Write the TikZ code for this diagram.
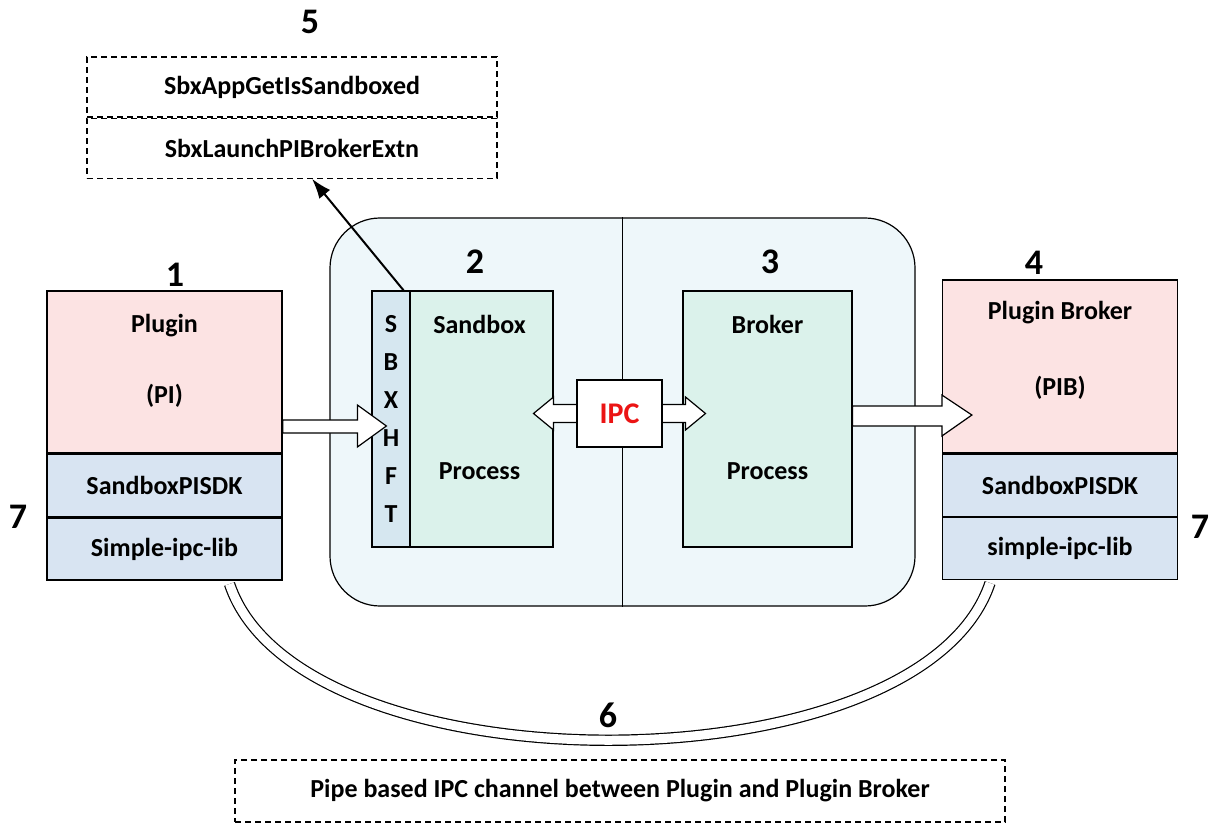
\documentclass[tikz,border=0pt]{standalone}
\usepackage{fontspec}
\setmainfont{Carlito}
\usepackage{xcolor}
\usepackage{tikz}
\usetikzlibrary{arrows.meta,positioning,calc}
\definecolor{rosefill}{RGB}{252,227,227}
\definecolor{sdkfill}{RGB}{216,228,242}
\definecolor{mintfill}{RGB}{219,242,235}
\definecolor{stripfill}{RGB}{214,231,240}
\definecolor{panelfill}{RGB}{238,247,250}
\definecolor{ipcred}{RGB}{235,20,20}
\tikzset{
  num/.style={font=\fontsize{18}{20}\selectfont\bfseries},
  txt/.style={font=\fontsize{13}{15}\selectfont\bfseries},
  api/.style={rectangle,draw,dash pattern=on 3pt off 2pt,semithick,fill=white,minimum width=205pt,
              minimum height=30pt,inner sep=0pt,font=\fontsize{13}{15}\selectfont\bfseries},
  host/.style={rectangle,draw,semithick,fill=rosefill,minimum width=117.5pt,inner sep=0pt},
  lib/.style={rectangle,draw,semithick,fill=sdkfill,minimum width=117.5pt,minimum height=31pt,
              inner sep=0pt,font=\fontsize{13}{15}\selectfont\bfseries},
  proc/.style={rectangle,draw,semithick,fill=mintfill,minimum height=128pt,inner sep=0pt},
  block/.style={draw,semithick,fill=white,line join=miter},
  pipe/.style={draw,semithick,double=white,double distance=4.5pt},
}
\begin{document}
\begin{tikzpicture}[x=0.5pt,y=-0.5pt]
  \useasboundingbox (0,0) rectangle (1218,823);

  % container for sandbox and broker processes
  \node[draw,semithick,fill=panelfill,rounded corners=25pt,minimum width=292.5pt,
        minimum height=194pt,inner sep=0pt] (panel) at (622.5,412) {};
  \draw[semithick] (panel.north) -- (panel.south);
  \node[num] (l2) at (475,262) {2};
  \node[num] (l3) at (770,262) {3};

  \node[proc,minimum width=71.5pt] (sbox) at (481.5,419) {};
  \node[rectangle,draw,semithick,fill=stripfill,minimum width=19pt,minimum height=128pt,inner sep=0pt,
        align=center,font=\fontsize{13}{19}\selectfont\bfseries] (sbx) at (391,419) {S\\B\\X\\H\\F\\T};
  \node[txt] (sbtop) at ($(sbox.north)+(-2,34)$) {Sandbox};
  \node[txt] (sbbot) at ($(sbox.north)+(-2,181)$) {Process};

  \node[proc,minimum width=84.5pt] (broker) at (767.5,419) {};
  \node[txt] (brtop) at ($(broker.north)+(0,34)$) {Broker};
  \node[txt] (brbot) at ($(broker.north)+(0,181)$) {Process};

  % IPC between the two processes
  \coordinate (ipcmid) at (619.5,413.5);
  \draw[block] ($(ipcmid)+(-86,0)$) -- ($(ipcmid)+(-66,-16.5)$) -- ($(ipcmid)+(-66,-9)$)
    -- ($(ipcmid)+(66,-9)$) -- ($(ipcmid)+(66,-16.5)$) -- ($(ipcmid)+(86,0)$)
    -- ($(ipcmid)+(66,16.5)$) -- ($(ipcmid)+(66,9)$) -- ($(ipcmid)+(-66,9)$)
    -- ($(ipcmid)+(-66,16.5)$) -- cycle;
  \node[draw,semithick,fill=white,minimum width=42.5pt,minimum height=33.5pt,
        font=\fontsize{15}{17}\selectfont\bfseries,text=ipcred] (ipc) at (ipcmid) {IPC};

  % plugin side
  \node[num] (l1) at (175,275) {1};
  \node[host,thick,minimum height=81pt] (plugin) at (164.5,372) {};
  \node[txt] (pitop) at ($(plugin.north)+(0,35)$) {Plugin};
  \node[txt] (pibot) at ($(plugin.north)+(0,106)$) {(PI)};
  \node[lib,thick] (sdk1) [below=0pt of plugin] {SandboxPISDK};
  \node[lib,thick] (ipclib1) [below=0pt of sdk1] {Simple-ipc-lib};
  \node[num] (l7a) at (18,517) {7};

  % plugin broker side
  \node[num] (l4) at (1034,263) {4};
  \node[host,minimum height=86.5pt] (pib) at (1060,366.5) {};
  \node[txt] (pibtop) at ($(pib.north)+(0,33)$) {Plugin Broker};
  \node[txt] (pibbot) at ($(pib.north)+(0,108)$) {(PIB)};
  \node[lib] (sdk2) [below=0pt of pib] {SandboxPISDK};
  \node[lib] (ipclib2) [below=0pt of sdk2] {simple-ipc-lib};
  \node[num] (l7b) at (1200,527) {7};

  % hollow arrows
  \draw[block] ($(plugin.east)+(0,48)$) -- ($(sbx.west)+(-14,1)$) -- ($(sbx.west)+(-14,-14)$)
    -- ($(sbx.west)+(15,7)$) -- ($(sbx.west)+(-14,28)$) -- ($(sbx.west)+(-14,14)$)
    -- ($(plugin.east)+(0,61)$) -- cycle;
  \draw[block] ($(broker.east)+(0,-13)$) -- ($(pib.west)+(0,39.5)$) -- ($(pib.west)+(0,28.5)$)
    -- ($(pib.west)+(30,48.5)$) -- ($(pib.west)+(0,69.5)$) -- ($(pib.west)+(0,59.5)$)
    -- ($(broker.east)+(0,7)$) -- cycle;

  % SBXHFT exports
  \node[num] (l5) at (310,22) {5};
  \node[api] (isbox) at (292,87) {SbxAppGetIsSandboxed};
  \node[api] (launch) [below=0pt of isbox] {SbxLaunchPIBrokerExtn};
  \draw[line width=1pt,-{Latex[length=10pt,width=7pt]}] ($(sbx.north east)+(-7,0)$) -- ($(launch.south)+(20,0)$);

  % pipe channel
  \draw[pipe] ($(ipclib1.south)+(65,3)$) .. controls +(70,209) and +(-70,209) .. ($(ipclib2.south)+(-70,3)$);
  \node[num] (l6) at (608,715) {6};
  \node[api,minimum width=385pt,minimum height=31pt] (pipebox) at (620,791)
    {Pipe based IPC channel between Plugin and Plugin Broker};
\end{tikzpicture}
\end{document}
